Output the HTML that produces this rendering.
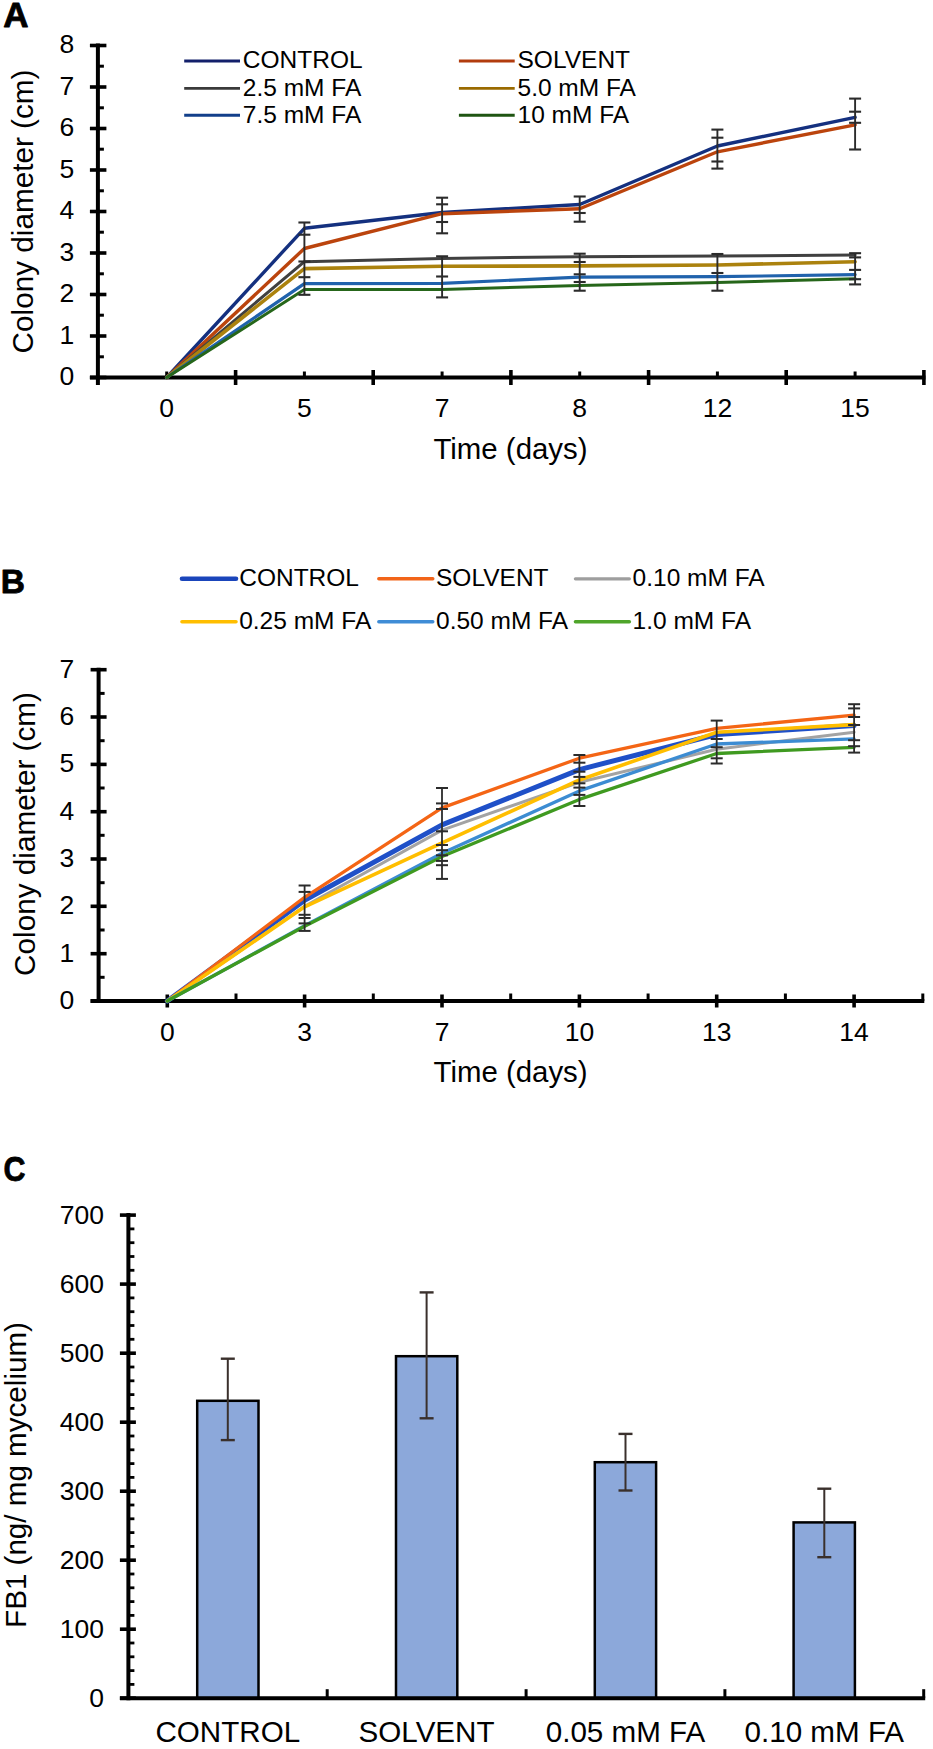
<!DOCTYPE html>
<html><head><meta charset="utf-8"><title>Figure</title>
<style>
html,body{margin:0;padding:0;background:#fff;}
body{width:933px;height:1749px;overflow:hidden;}
svg{display:block;}
svg text{font-family:"Liberation Sans", sans-serif;fill:#000;}
</style></head>
<body>
<svg width="933" height="1749" viewBox="0 0 933 1749">
<rect x="0" y="0" width="933" height="1749" fill="#fff"/>
<text x="3.2" y="26.8" font-size="35" text-anchor="start" font-weight="bold" stroke="#000" stroke-width="0.8" stroke-linejoin="round">A</text>
<line x1="97.9" y1="43.5" x2="97.9" y2="385.0" stroke="#000" stroke-width="4" stroke-linecap="butt"/>
<line x1="89.9" y1="377.5" x2="106.4" y2="377.5" stroke="#000" stroke-width="3.6" stroke-linecap="butt"/>
<text x="74.2" y="385.1" font-size="26.5" text-anchor="end" font-weight="normal" >0</text>
<line x1="89.9" y1="336.0" x2="106.4" y2="336.0" stroke="#000" stroke-width="3.6" stroke-linecap="butt"/>
<text x="74.2" y="343.6" font-size="26.5" text-anchor="end" font-weight="normal" >1</text>
<line x1="89.9" y1="294.5" x2="106.4" y2="294.5" stroke="#000" stroke-width="3.6" stroke-linecap="butt"/>
<text x="74.2" y="302.1" font-size="26.5" text-anchor="end" font-weight="normal" >2</text>
<line x1="89.9" y1="253.0" x2="106.4" y2="253.0" stroke="#000" stroke-width="3.6" stroke-linecap="butt"/>
<text x="74.2" y="260.6" font-size="26.5" text-anchor="end" font-weight="normal" >3</text>
<line x1="89.9" y1="211.5" x2="106.4" y2="211.5" stroke="#000" stroke-width="3.6" stroke-linecap="butt"/>
<text x="74.2" y="219.1" font-size="26.5" text-anchor="end" font-weight="normal" >4</text>
<line x1="89.9" y1="170.0" x2="106.4" y2="170.0" stroke="#000" stroke-width="3.6" stroke-linecap="butt"/>
<text x="74.2" y="177.6" font-size="26.5" text-anchor="end" font-weight="normal" >5</text>
<line x1="89.9" y1="128.5" x2="106.4" y2="128.5" stroke="#000" stroke-width="3.6" stroke-linecap="butt"/>
<text x="74.2" y="136.1" font-size="26.5" text-anchor="end" font-weight="normal" >6</text>
<line x1="89.9" y1="87.0" x2="106.4" y2="87.0" stroke="#000" stroke-width="3.6" stroke-linecap="butt"/>
<text x="74.2" y="94.6" font-size="26.5" text-anchor="end" font-weight="normal" >7</text>
<line x1="89.9" y1="45.5" x2="106.4" y2="45.5" stroke="#000" stroke-width="3.6" stroke-linecap="butt"/>
<text x="74.2" y="53.1" font-size="26.5" text-anchor="end" font-weight="normal" >8</text>
<line x1="97.9" y1="356.8" x2="103.9" y2="356.8" stroke="#000" stroke-width="3" stroke-linecap="butt"/>
<line x1="97.9" y1="315.2" x2="103.9" y2="315.2" stroke="#000" stroke-width="3" stroke-linecap="butt"/>
<line x1="97.9" y1="273.8" x2="103.9" y2="273.8" stroke="#000" stroke-width="3" stroke-linecap="butt"/>
<line x1="97.9" y1="232.2" x2="103.9" y2="232.2" stroke="#000" stroke-width="3" stroke-linecap="butt"/>
<line x1="97.9" y1="190.8" x2="103.9" y2="190.8" stroke="#000" stroke-width="3" stroke-linecap="butt"/>
<line x1="97.9" y1="149.2" x2="103.9" y2="149.2" stroke="#000" stroke-width="3" stroke-linecap="butt"/>
<line x1="97.9" y1="107.8" x2="103.9" y2="107.8" stroke="#000" stroke-width="3" stroke-linecap="butt"/>
<line x1="97.9" y1="66.2" x2="103.9" y2="66.2" stroke="#000" stroke-width="3" stroke-linecap="butt"/>
<line x1="89.9" y1="377.5" x2="925.4" y2="377.5" stroke="#000" stroke-width="4" stroke-linecap="butt"/>
<line x1="235.6" y1="370.0" x2="235.6" y2="385.0" stroke="#000" stroke-width="3.6" stroke-linecap="butt"/>
<line x1="373.2" y1="370.0" x2="373.2" y2="385.0" stroke="#000" stroke-width="3.6" stroke-linecap="butt"/>
<line x1="510.9" y1="370.0" x2="510.9" y2="385.0" stroke="#000" stroke-width="3.6" stroke-linecap="butt"/>
<line x1="648.6" y1="370.0" x2="648.6" y2="385.0" stroke="#000" stroke-width="3.6" stroke-linecap="butt"/>
<line x1="786.2" y1="370.0" x2="786.2" y2="385.0" stroke="#000" stroke-width="3.6" stroke-linecap="butt"/>
<line x1="923.9" y1="370.0" x2="923.9" y2="385.0" stroke="#000" stroke-width="3.6" stroke-linecap="butt"/>
<line x1="166.7" y1="371.5" x2="166.7" y2="377.5" stroke="#000" stroke-width="3" stroke-linecap="butt"/>
<line x1="304.4" y1="371.5" x2="304.4" y2="377.5" stroke="#000" stroke-width="3" stroke-linecap="butt"/>
<line x1="442.1" y1="371.5" x2="442.1" y2="377.5" stroke="#000" stroke-width="3" stroke-linecap="butt"/>
<line x1="579.7" y1="371.5" x2="579.7" y2="377.5" stroke="#000" stroke-width="3" stroke-linecap="butt"/>
<line x1="717.4" y1="371.5" x2="717.4" y2="377.5" stroke="#000" stroke-width="3" stroke-linecap="butt"/>
<line x1="855.1" y1="371.5" x2="855.1" y2="377.5" stroke="#000" stroke-width="3" stroke-linecap="butt"/>
<text x="166.7" y="417.3" font-size="26.5" text-anchor="middle" font-weight="normal" >0</text>
<text x="304.4" y="417.3" font-size="26.5" text-anchor="middle" font-weight="normal" >5</text>
<text x="442.1" y="417.3" font-size="26.5" text-anchor="middle" font-weight="normal" >7</text>
<text x="579.7" y="417.3" font-size="26.5" text-anchor="middle" font-weight="normal" >8</text>
<text x="717.4" y="417.3" font-size="26.5" text-anchor="middle" font-weight="normal" >12</text>
<text x="855.1" y="417.3" font-size="26.5" text-anchor="middle" font-weight="normal" >15</text>
<text x="510.5" y="458.6" font-size="29.4" text-anchor="middle" font-weight="normal" >Time (days)</text>
<text transform="translate(32.6,211.5) rotate(-90)" font-size="29.7" text-anchor="middle">Colony diameter (cm)</text>
<line x1="184.2" y1="61.0" x2="240.0" y2="61.0" stroke="#13206b" stroke-width="2.9" stroke-linecap="butt"/>
<text x="242.8" y="68.2" font-size="24.5" text-anchor="start" font-weight="normal" >CONTROL</text>
<line x1="184.2" y1="88.4" x2="240.0" y2="88.4" stroke="#3a3a3a" stroke-width="2.9" stroke-linecap="butt"/>
<text x="242.8" y="95.6" font-size="24.5" text-anchor="start" font-weight="normal" >2.5 mM FA</text>
<line x1="184.2" y1="115.3" x2="240.0" y2="115.3" stroke="#123f8a" stroke-width="2.9" stroke-linecap="butt"/>
<text x="242.8" y="122.5" font-size="24.5" text-anchor="start" font-weight="normal" >7.5 mM FA</text>
<line x1="458.9" y1="61.0" x2="514.7" y2="61.0" stroke="#b23c0e" stroke-width="2.9" stroke-linecap="butt"/>
<text x="517.5" y="68.2" font-size="24.5" text-anchor="start" font-weight="normal" >SOLVENT</text>
<line x1="458.9" y1="88.4" x2="514.7" y2="88.4" stroke="#9a6a00" stroke-width="2.9" stroke-linecap="butt"/>
<text x="517.5" y="95.6" font-size="24.5" text-anchor="start" font-weight="normal" >5.0 mM FA</text>
<line x1="458.9" y1="115.3" x2="514.7" y2="115.3" stroke="#1f5512" stroke-width="2.9" stroke-linecap="butt"/>
<text x="517.5" y="122.5" font-size="24.5" text-anchor="start" font-weight="normal" >10 mM FA</text>
<g fill="none" stroke-linejoin="round" stroke-linecap="round">
<polyline points="166.7,377.5 304.4,228.3 442.1,212.5 579.7,204.5 717.4,146.0 855.1,117.3" stroke="#14307f" stroke-width="3.4"/>
<polyline points="166.7,377.5 304.4,248.5 442.1,213.7 579.7,208.7 717.4,151.8 855.1,124.8" stroke="#bb440d" stroke-width="3.4"/>
<polyline points="166.7,377.5 304.4,261.7 442.1,258.4 579.7,256.7 717.4,255.9 855.1,255.1" stroke="#404040" stroke-width="3.0"/>
<polyline points="166.7,377.5 304.4,268.6 442.1,266.3 579.7,265.9 717.4,265.0 855.1,261.7" stroke="#ab820e" stroke-width="3.6"/>
<polyline points="166.7,377.5 304.4,283.6 442.1,283.3 579.7,277.1 717.4,276.7 855.1,274.6" stroke="#2062ac" stroke-width="3.2"/>
<polyline points="166.7,377.5 304.4,289.6 442.1,289.5 579.7,285.4 717.4,282.5 855.1,278.7" stroke="#26661a" stroke-width="3.0"/>
</g>
<line x1="304.4" y1="222.5" x2="304.4" y2="234.7" stroke="#2b2b2b" stroke-width="1.9" stroke-linecap="butt"/>
<line x1="304.4" y1="234.7" x2="304.4" y2="261.5" stroke="#2b2b2b" stroke-width="1.9" stroke-linecap="butt"/>
<line x1="304.4" y1="261.5" x2="304.4" y2="277.2" stroke="#2b2b2b" stroke-width="1.9" stroke-linecap="butt"/>
<line x1="304.4" y1="277.2" x2="304.4" y2="294.8" stroke="#2b2b2b" stroke-width="1.9" stroke-linecap="butt"/>
<line x1="442.1" y1="197.7" x2="442.1" y2="233.3" stroke="#2b2b2b" stroke-width="1.9" stroke-linecap="butt"/>
<line x1="442.1" y1="256.3" x2="442.1" y2="297.4" stroke="#2b2b2b" stroke-width="1.9" stroke-linecap="butt"/>
<line x1="579.7" y1="196.5" x2="579.7" y2="221.7" stroke="#2b2b2b" stroke-width="1.9" stroke-linecap="butt"/>
<line x1="579.7" y1="253.7" x2="579.7" y2="290.7" stroke="#2b2b2b" stroke-width="1.9" stroke-linecap="butt"/>
<line x1="717.4" y1="129.6" x2="717.4" y2="168.6" stroke="#2b2b2b" stroke-width="1.9" stroke-linecap="butt"/>
<line x1="717.4" y1="254.0" x2="717.4" y2="290.7" stroke="#2b2b2b" stroke-width="1.9" stroke-linecap="butt"/>
<line x1="855.1" y1="98.6" x2="855.1" y2="149.5" stroke="#2b2b2b" stroke-width="1.9" stroke-linecap="butt"/>
<line x1="855.1" y1="253.2" x2="855.1" y2="284.4" stroke="#2b2b2b" stroke-width="1.9" stroke-linecap="butt"/>
<line x1="298.4" y1="222.5" x2="310.4" y2="222.5" stroke="#2b2b2b" stroke-width="2.1" stroke-linecap="butt"/>
<line x1="298.4" y1="234.7" x2="310.4" y2="234.7" stroke="#2b2b2b" stroke-width="2.1" stroke-linecap="butt"/>
<line x1="298.4" y1="261.5" x2="310.4" y2="261.5" stroke="#2b2b2b" stroke-width="2.1" stroke-linecap="butt"/>
<line x1="298.4" y1="277.2" x2="310.4" y2="277.2" stroke="#2b2b2b" stroke-width="2.1" stroke-linecap="butt"/>
<line x1="298.4" y1="294.8" x2="310.4" y2="294.8" stroke="#2b2b2b" stroke-width="2.1" stroke-linecap="butt"/>
<line x1="436.1" y1="197.7" x2="448.1" y2="197.7" stroke="#2b2b2b" stroke-width="2.1" stroke-linecap="butt"/>
<line x1="436.1" y1="204.3" x2="448.1" y2="204.3" stroke="#2b2b2b" stroke-width="2.1" stroke-linecap="butt"/>
<line x1="436.1" y1="222.0" x2="448.1" y2="222.0" stroke="#2b2b2b" stroke-width="2.1" stroke-linecap="butt"/>
<line x1="436.1" y1="233.3" x2="448.1" y2="233.3" stroke="#2b2b2b" stroke-width="2.1" stroke-linecap="butt"/>
<line x1="436.1" y1="256.3" x2="448.1" y2="256.3" stroke="#2b2b2b" stroke-width="2.1" stroke-linecap="butt"/>
<line x1="436.1" y1="276.5" x2="448.1" y2="276.5" stroke="#2b2b2b" stroke-width="2.1" stroke-linecap="butt"/>
<line x1="436.1" y1="297.4" x2="448.1" y2="297.4" stroke="#2b2b2b" stroke-width="2.1" stroke-linecap="butt"/>
<line x1="573.7" y1="196.5" x2="585.7" y2="196.5" stroke="#2b2b2b" stroke-width="2.1" stroke-linecap="butt"/>
<line x1="573.7" y1="213.0" x2="585.7" y2="213.0" stroke="#2b2b2b" stroke-width="2.1" stroke-linecap="butt"/>
<line x1="573.7" y1="221.7" x2="585.7" y2="221.7" stroke="#2b2b2b" stroke-width="2.1" stroke-linecap="butt"/>
<line x1="573.7" y1="253.7" x2="585.7" y2="253.7" stroke="#2b2b2b" stroke-width="2.1" stroke-linecap="butt"/>
<line x1="573.7" y1="262.0" x2="585.7" y2="262.0" stroke="#2b2b2b" stroke-width="2.1" stroke-linecap="butt"/>
<line x1="573.7" y1="274.3" x2="585.7" y2="274.3" stroke="#2b2b2b" stroke-width="2.1" stroke-linecap="butt"/>
<line x1="573.7" y1="282.0" x2="585.7" y2="282.0" stroke="#2b2b2b" stroke-width="2.1" stroke-linecap="butt"/>
<line x1="573.7" y1="290.7" x2="585.7" y2="290.7" stroke="#2b2b2b" stroke-width="2.1" stroke-linecap="butt"/>
<line x1="711.4" y1="129.6" x2="723.4" y2="129.6" stroke="#2b2b2b" stroke-width="2.1" stroke-linecap="butt"/>
<line x1="711.4" y1="137.7" x2="723.4" y2="137.7" stroke="#2b2b2b" stroke-width="2.1" stroke-linecap="butt"/>
<line x1="711.4" y1="161.5" x2="723.4" y2="161.5" stroke="#2b2b2b" stroke-width="2.1" stroke-linecap="butt"/>
<line x1="711.4" y1="168.6" x2="723.4" y2="168.6" stroke="#2b2b2b" stroke-width="2.1" stroke-linecap="butt"/>
<line x1="711.4" y1="254.0" x2="723.4" y2="254.0" stroke="#2b2b2b" stroke-width="2.1" stroke-linecap="butt"/>
<line x1="711.4" y1="273.0" x2="723.4" y2="273.0" stroke="#2b2b2b" stroke-width="2.1" stroke-linecap="butt"/>
<line x1="711.4" y1="290.7" x2="723.4" y2="290.7" stroke="#2b2b2b" stroke-width="2.1" stroke-linecap="butt"/>
<line x1="849.1" y1="98.6" x2="861.1" y2="98.6" stroke="#2b2b2b" stroke-width="2.1" stroke-linecap="butt"/>
<line x1="849.1" y1="111.7" x2="861.1" y2="111.7" stroke="#2b2b2b" stroke-width="2.1" stroke-linecap="butt"/>
<line x1="849.1" y1="122.8" x2="861.1" y2="122.8" stroke="#2b2b2b" stroke-width="2.1" stroke-linecap="butt"/>
<line x1="849.1" y1="149.5" x2="861.1" y2="149.5" stroke="#2b2b2b" stroke-width="2.1" stroke-linecap="butt"/>
<line x1="849.1" y1="253.2" x2="861.1" y2="253.2" stroke="#2b2b2b" stroke-width="2.1" stroke-linecap="butt"/>
<line x1="849.1" y1="257.4" x2="861.1" y2="257.4" stroke="#2b2b2b" stroke-width="2.1" stroke-linecap="butt"/>
<line x1="849.1" y1="269.9" x2="861.1" y2="269.9" stroke="#2b2b2b" stroke-width="2.1" stroke-linecap="butt"/>
<line x1="849.1" y1="279.2" x2="861.1" y2="279.2" stroke="#2b2b2b" stroke-width="2.1" stroke-linecap="butt"/>
<line x1="849.1" y1="284.4" x2="861.1" y2="284.4" stroke="#2b2b2b" stroke-width="2.1" stroke-linecap="butt"/>
<text x="0.7" y="593.2" font-size="33.5" text-anchor="start" font-weight="bold" stroke="#000" stroke-width="0.8" stroke-linejoin="round">B</text>
<line x1="98.6" y1="667.7" x2="98.6" y2="1002.5" stroke="#000" stroke-width="4" stroke-linecap="butt"/>
<line x1="90.6" y1="1001.0" x2="106.6" y2="1001.0" stroke="#000" stroke-width="3.6" stroke-linecap="butt"/>
<text x="74.2" y="1008.9" font-size="26.5" text-anchor="end" font-weight="normal" >0</text>
<line x1="90.6" y1="953.7" x2="106.6" y2="953.7" stroke="#000" stroke-width="3.6" stroke-linecap="butt"/>
<text x="74.2" y="961.6" font-size="26.5" text-anchor="end" font-weight="normal" >1</text>
<line x1="90.6" y1="906.3" x2="106.6" y2="906.3" stroke="#000" stroke-width="3.6" stroke-linecap="butt"/>
<text x="74.2" y="914.2" font-size="26.5" text-anchor="end" font-weight="normal" >2</text>
<line x1="90.6" y1="859.0" x2="106.6" y2="859.0" stroke="#000" stroke-width="3.6" stroke-linecap="butt"/>
<text x="74.2" y="866.9" font-size="26.5" text-anchor="end" font-weight="normal" >3</text>
<line x1="90.6" y1="811.7" x2="106.6" y2="811.7" stroke="#000" stroke-width="3.6" stroke-linecap="butt"/>
<text x="74.2" y="819.6" font-size="26.5" text-anchor="end" font-weight="normal" >4</text>
<line x1="90.6" y1="764.4" x2="106.6" y2="764.4" stroke="#000" stroke-width="3.6" stroke-linecap="butt"/>
<text x="74.2" y="772.2" font-size="26.5" text-anchor="end" font-weight="normal" >5</text>
<line x1="90.6" y1="717.0" x2="106.6" y2="717.0" stroke="#000" stroke-width="3.6" stroke-linecap="butt"/>
<text x="74.2" y="724.9" font-size="26.5" text-anchor="end" font-weight="normal" >6</text>
<line x1="90.6" y1="669.7" x2="106.6" y2="669.7" stroke="#000" stroke-width="3.6" stroke-linecap="butt"/>
<text x="74.2" y="677.6" font-size="26.5" text-anchor="end" font-weight="normal" >7</text>
<line x1="98.6" y1="977.3" x2="104.6" y2="977.3" stroke="#000" stroke-width="3" stroke-linecap="butt"/>
<line x1="98.6" y1="930.0" x2="104.6" y2="930.0" stroke="#000" stroke-width="3" stroke-linecap="butt"/>
<line x1="98.6" y1="882.7" x2="104.6" y2="882.7" stroke="#000" stroke-width="3" stroke-linecap="butt"/>
<line x1="98.6" y1="835.3" x2="104.6" y2="835.3" stroke="#000" stroke-width="3" stroke-linecap="butt"/>
<line x1="98.6" y1="788.0" x2="104.6" y2="788.0" stroke="#000" stroke-width="3" stroke-linecap="butt"/>
<line x1="98.6" y1="740.7" x2="104.6" y2="740.7" stroke="#000" stroke-width="3" stroke-linecap="butt"/>
<line x1="98.6" y1="693.4" x2="104.6" y2="693.4" stroke="#000" stroke-width="3" stroke-linecap="butt"/>
<line x1="90.6" y1="1001.0" x2="924.3" y2="1001.0" stroke="#000" stroke-width="4" stroke-linecap="butt"/>
<line x1="167.3" y1="994.5" x2="167.3" y2="1007.5" stroke="#000" stroke-width="3.6" stroke-linecap="butt"/>
<line x1="304.6" y1="994.5" x2="304.6" y2="1007.5" stroke="#000" stroke-width="3.6" stroke-linecap="butt"/>
<line x1="442.0" y1="994.5" x2="442.0" y2="1007.5" stroke="#000" stroke-width="3.6" stroke-linecap="butt"/>
<line x1="579.4" y1="994.5" x2="579.4" y2="1007.5" stroke="#000" stroke-width="3.6" stroke-linecap="butt"/>
<line x1="716.7" y1="994.5" x2="716.7" y2="1007.5" stroke="#000" stroke-width="3.6" stroke-linecap="butt"/>
<line x1="854.1" y1="994.5" x2="854.1" y2="1007.5" stroke="#000" stroke-width="3.6" stroke-linecap="butt"/>
<line x1="236.0" y1="993.5" x2="236.0" y2="1001.0" stroke="#000" stroke-width="3" stroke-linecap="butt"/>
<line x1="373.3" y1="993.5" x2="373.3" y2="1001.0" stroke="#000" stroke-width="3" stroke-linecap="butt"/>
<line x1="510.7" y1="993.5" x2="510.7" y2="1001.0" stroke="#000" stroke-width="3" stroke-linecap="butt"/>
<line x1="648.1" y1="993.5" x2="648.1" y2="1001.0" stroke="#000" stroke-width="3" stroke-linecap="butt"/>
<line x1="785.4" y1="993.5" x2="785.4" y2="1001.0" stroke="#000" stroke-width="3" stroke-linecap="butt"/>
<line x1="922.8" y1="993.5" x2="922.8" y2="1001.0" stroke="#000" stroke-width="3" stroke-linecap="butt"/>
<text x="167.3" y="1040.6" font-size="26.5" text-anchor="middle" font-weight="normal" >0</text>
<text x="304.6" y="1040.6" font-size="26.5" text-anchor="middle" font-weight="normal" >3</text>
<text x="442.0" y="1040.6" font-size="26.5" text-anchor="middle" font-weight="normal" >7</text>
<text x="579.4" y="1040.6" font-size="26.5" text-anchor="middle" font-weight="normal" >10</text>
<text x="716.7" y="1040.6" font-size="26.5" text-anchor="middle" font-weight="normal" >13</text>
<text x="854.1" y="1040.6" font-size="26.5" text-anchor="middle" font-weight="normal" >14</text>
<text x="510.6" y="1082.4" font-size="29.4" text-anchor="middle" font-weight="normal" >Time (days)</text>
<text transform="translate(34.6,834) rotate(-90)" font-size="29.7" text-anchor="middle">Colony diameter (cm)</text>
<line x1="182.0" y1="578.8" x2="236.0" y2="578.8" stroke="#1a45bb" stroke-width="4.6" stroke-linecap="round"/>
<text x="239.2" y="586.3" font-size="24.5" text-anchor="start" font-weight="normal" >CONTROL</text>
<line x1="378.8" y1="578.8" x2="432.8" y2="578.8" stroke="#f26418" stroke-width="3.4" stroke-linecap="round"/>
<text x="436.0" y="586.3" font-size="24.5" text-anchor="start" font-weight="normal" >SOLVENT</text>
<line x1="575.4" y1="578.8" x2="629.4" y2="578.8" stroke="#9e9e9e" stroke-width="3.2" stroke-linecap="round"/>
<text x="632.6" y="586.3" font-size="24.5" text-anchor="start" font-weight="normal" >0.10 mM FA</text>
<line x1="182.0" y1="621.8" x2="236.0" y2="621.8" stroke="#ffbe00" stroke-width="3.6" stroke-linecap="round"/>
<text x="239.2" y="629.3" font-size="24.5" text-anchor="start" font-weight="normal" >0.25 mM FA</text>
<line x1="378.8" y1="621.8" x2="432.8" y2="621.8" stroke="#3f8cd6" stroke-width="3.4" stroke-linecap="round"/>
<text x="436.0" y="629.3" font-size="24.5" text-anchor="start" font-weight="normal" >0.50 mM FA</text>
<line x1="575.4" y1="621.8" x2="629.4" y2="621.8" stroke="#4fa52a" stroke-width="3.4" stroke-linecap="round"/>
<text x="632.6" y="629.3" font-size="24.5" text-anchor="start" font-weight="normal" >1.0 mM FA</text>
<g fill="none" stroke-linejoin="round" stroke-linecap="round">
<polyline points="167.3,1001.0 304.6,900.2 442.0,824.9 579.4,769.6 716.7,734.5 854.1,725.5" stroke="#1f50c8" stroke-width="5.0"/>
<polyline points="167.3,1001.0 304.6,897.3 442.0,807.9 579.4,758.2 716.7,728.4 854.1,715.1" stroke="#f46515" stroke-width="3.3"/>
<polyline points="167.3,1001.0 304.6,906.3 442.0,830.1 579.4,782.3 716.7,749.2 854.1,732.2" stroke="#a3a3a3" stroke-width="3.0"/>
<polyline points="167.3,1001.0 304.6,906.8 442.0,842.9 579.4,780.0 716.7,732.2 854.1,724.6" stroke="#ffbe00" stroke-width="3.6"/>
<polyline points="167.3,1001.0 304.6,925.7 442.0,853.3 579.4,790.9 716.7,744.0 854.1,738.8" stroke="#3c8cd2" stroke-width="3.3"/>
<polyline points="167.3,1001.0 304.6,926.2 442.0,856.6 579.4,799.4 716.7,753.5 854.1,747.3" stroke="#3f9a20" stroke-width="3.3"/>
</g>
<line x1="304.6" y1="885.5" x2="304.6" y2="930.9" stroke="#2b2b2b" stroke-width="1.8" stroke-linecap="butt"/>
<line x1="442.0" y1="788.0" x2="442.0" y2="878.9" stroke="#2b2b2b" stroke-width="1.8" stroke-linecap="butt"/>
<line x1="579.4" y1="755.0" x2="579.4" y2="806.0" stroke="#2b2b2b" stroke-width="1.8" stroke-linecap="butt"/>
<line x1="716.7" y1="720.6" x2="716.7" y2="763.5" stroke="#2b2b2b" stroke-width="1.8" stroke-linecap="butt"/>
<line x1="854.1" y1="704.2" x2="854.1" y2="752.6" stroke="#2b2b2b" stroke-width="1.8" stroke-linecap="butt"/>
<line x1="298.6" y1="885.5" x2="310.6" y2="885.5" stroke="#2b2b2b" stroke-width="2.0" stroke-linecap="butt"/>
<line x1="298.6" y1="891.9" x2="310.6" y2="891.9" stroke="#2b2b2b" stroke-width="2.0" stroke-linecap="butt"/>
<line x1="298.6" y1="914.8" x2="310.6" y2="914.8" stroke="#2b2b2b" stroke-width="2.0" stroke-linecap="butt"/>
<line x1="298.6" y1="918.0" x2="310.6" y2="918.0" stroke="#2b2b2b" stroke-width="2.0" stroke-linecap="butt"/>
<line x1="298.6" y1="923.4" x2="310.6" y2="923.4" stroke="#2b2b2b" stroke-width="2.0" stroke-linecap="butt"/>
<line x1="298.6" y1="930.9" x2="310.6" y2="930.9" stroke="#2b2b2b" stroke-width="2.0" stroke-linecap="butt"/>
<line x1="436.0" y1="788.0" x2="448.0" y2="788.0" stroke="#2b2b2b" stroke-width="2.0" stroke-linecap="butt"/>
<line x1="436.0" y1="803.4" x2="448.0" y2="803.4" stroke="#2b2b2b" stroke-width="2.0" stroke-linecap="butt"/>
<line x1="436.0" y1="809.0" x2="448.0" y2="809.0" stroke="#2b2b2b" stroke-width="2.0" stroke-linecap="butt"/>
<line x1="436.0" y1="831.3" x2="448.0" y2="831.3" stroke="#2b2b2b" stroke-width="2.0" stroke-linecap="butt"/>
<line x1="436.0" y1="845.0" x2="448.0" y2="845.0" stroke="#2b2b2b" stroke-width="2.0" stroke-linecap="butt"/>
<line x1="436.0" y1="850.2" x2="448.0" y2="850.2" stroke="#2b2b2b" stroke-width="2.0" stroke-linecap="butt"/>
<line x1="436.0" y1="855.3" x2="448.0" y2="855.3" stroke="#2b2b2b" stroke-width="2.0" stroke-linecap="butt"/>
<line x1="436.0" y1="860.9" x2="448.0" y2="860.9" stroke="#2b2b2b" stroke-width="2.0" stroke-linecap="butt"/>
<line x1="436.0" y1="865.2" x2="448.0" y2="865.2" stroke="#2b2b2b" stroke-width="2.0" stroke-linecap="butt"/>
<line x1="436.0" y1="878.9" x2="448.0" y2="878.9" stroke="#2b2b2b" stroke-width="2.0" stroke-linecap="butt"/>
<line x1="573.4" y1="755.0" x2="585.4" y2="755.0" stroke="#2b2b2b" stroke-width="2.0" stroke-linecap="butt"/>
<line x1="573.4" y1="762.7" x2="585.4" y2="762.7" stroke="#2b2b2b" stroke-width="2.0" stroke-linecap="butt"/>
<line x1="573.4" y1="771.7" x2="585.4" y2="771.7" stroke="#2b2b2b" stroke-width="2.0" stroke-linecap="butt"/>
<line x1="573.4" y1="776.9" x2="585.4" y2="776.9" stroke="#2b2b2b" stroke-width="2.0" stroke-linecap="butt"/>
<line x1="573.4" y1="783.3" x2="585.4" y2="783.3" stroke="#2b2b2b" stroke-width="2.0" stroke-linecap="butt"/>
<line x1="573.4" y1="787.6" x2="585.4" y2="787.6" stroke="#2b2b2b" stroke-width="2.0" stroke-linecap="butt"/>
<line x1="573.4" y1="794.9" x2="585.4" y2="794.9" stroke="#2b2b2b" stroke-width="2.0" stroke-linecap="butt"/>
<line x1="573.4" y1="806.0" x2="585.4" y2="806.0" stroke="#2b2b2b" stroke-width="2.0" stroke-linecap="butt"/>
<line x1="710.7" y1="720.6" x2="722.7" y2="720.6" stroke="#2b2b2b" stroke-width="2.0" stroke-linecap="butt"/>
<line x1="710.7" y1="739.0" x2="722.7" y2="739.0" stroke="#2b2b2b" stroke-width="2.0" stroke-linecap="butt"/>
<line x1="710.7" y1="747.2" x2="722.7" y2="747.2" stroke="#2b2b2b" stroke-width="2.0" stroke-linecap="butt"/>
<line x1="710.7" y1="758.3" x2="722.7" y2="758.3" stroke="#2b2b2b" stroke-width="2.0" stroke-linecap="butt"/>
<line x1="710.7" y1="763.5" x2="722.7" y2="763.5" stroke="#2b2b2b" stroke-width="2.0" stroke-linecap="butt"/>
<line x1="848.1" y1="704.2" x2="860.1" y2="704.2" stroke="#2b2b2b" stroke-width="2.0" stroke-linecap="butt"/>
<line x1="848.1" y1="708.4" x2="860.1" y2="708.4" stroke="#2b2b2b" stroke-width="2.0" stroke-linecap="butt"/>
<line x1="848.1" y1="717.0" x2="860.1" y2="717.0" stroke="#2b2b2b" stroke-width="2.0" stroke-linecap="butt"/>
<line x1="848.1" y1="725.0" x2="860.1" y2="725.0" stroke="#2b2b2b" stroke-width="2.0" stroke-linecap="butt"/>
<line x1="848.1" y1="740.2" x2="860.1" y2="740.2" stroke="#2b2b2b" stroke-width="2.0" stroke-linecap="butt"/>
<line x1="848.1" y1="746.2" x2="860.1" y2="746.2" stroke="#2b2b2b" stroke-width="2.0" stroke-linecap="butt"/>
<line x1="848.1" y1="752.6" x2="860.1" y2="752.6" stroke="#2b2b2b" stroke-width="2.0" stroke-linecap="butt"/>
<text transform="translate(3.4,1180.6) scale(0.87,1)" font-size="35" font-weight="bold" stroke="#000" stroke-width="0.8" stroke-linejoin="round">C</text>
<rect x="197.2" y="1400.8" width="61.3" height="297.4" fill="#8ca8da" stroke="#000" stroke-width="2.5"/>
<rect x="396.0" y="1356.2" width="61.3" height="342.0" fill="#8ca8da" stroke="#000" stroke-width="2.5"/>
<rect x="594.8" y="1462.2" width="61.3" height="236.0" fill="#8ca8da" stroke="#000" stroke-width="2.5"/>
<rect x="793.6" y="1522.4" width="61.3" height="175.8" fill="#8ca8da" stroke="#000" stroke-width="2.5"/>
<line x1="227.8" y1="1358.7" x2="227.8" y2="1440.1" stroke="#3a302c" stroke-width="2" stroke-linecap="butt"/>
<line x1="220.8" y1="1358.7" x2="234.8" y2="1358.7" stroke="#3a302c" stroke-width="2.4" stroke-linecap="butt"/>
<line x1="220.8" y1="1440.1" x2="234.8" y2="1440.1" stroke="#3a302c" stroke-width="2.4" stroke-linecap="butt"/>
<line x1="426.6" y1="1292.4" x2="426.6" y2="1418.3" stroke="#3a302c" stroke-width="2" stroke-linecap="butt"/>
<line x1="419.6" y1="1292.4" x2="433.6" y2="1292.4" stroke="#3a302c" stroke-width="2.4" stroke-linecap="butt"/>
<line x1="419.6" y1="1418.3" x2="433.6" y2="1418.3" stroke="#3a302c" stroke-width="2.4" stroke-linecap="butt"/>
<line x1="625.5" y1="1433.9" x2="625.5" y2="1490.5" stroke="#3a302c" stroke-width="2" stroke-linecap="butt"/>
<line x1="618.5" y1="1433.9" x2="632.5" y2="1433.9" stroke="#3a302c" stroke-width="2.4" stroke-linecap="butt"/>
<line x1="618.5" y1="1490.5" x2="632.5" y2="1490.5" stroke="#3a302c" stroke-width="2.4" stroke-linecap="butt"/>
<line x1="824.3" y1="1488.7" x2="824.3" y2="1557.2" stroke="#3a302c" stroke-width="2" stroke-linecap="butt"/>
<line x1="817.3" y1="1488.7" x2="831.3" y2="1488.7" stroke="#3a302c" stroke-width="2.4" stroke-linecap="butt"/>
<line x1="817.3" y1="1557.2" x2="831.3" y2="1557.2" stroke="#3a302c" stroke-width="2.4" stroke-linecap="butt"/>
<line x1="128.4" y1="1213.1" x2="128.4" y2="1700.2" stroke="#000" stroke-width="4" stroke-linecap="butt"/>
<line x1="119.9" y1="1698.2" x2="135.9" y2="1698.2" stroke="#000" stroke-width="3.6" stroke-linecap="butt"/>
<text x="104.0" y="1707.0" font-size="26.5" text-anchor="end" font-weight="normal" >0</text>
<line x1="119.9" y1="1629.2" x2="135.9" y2="1629.2" stroke="#000" stroke-width="3.6" stroke-linecap="butt"/>
<text x="104.0" y="1638.0" font-size="26.5" text-anchor="end" font-weight="normal" >100</text>
<line x1="119.9" y1="1560.2" x2="135.9" y2="1560.2" stroke="#000" stroke-width="3.6" stroke-linecap="butt"/>
<text x="104.0" y="1569.0" font-size="26.5" text-anchor="end" font-weight="normal" >200</text>
<line x1="119.9" y1="1491.2" x2="135.9" y2="1491.2" stroke="#000" stroke-width="3.6" stroke-linecap="butt"/>
<text x="104.0" y="1500.0" font-size="26.5" text-anchor="end" font-weight="normal" >300</text>
<line x1="119.9" y1="1422.2" x2="135.9" y2="1422.2" stroke="#000" stroke-width="3.6" stroke-linecap="butt"/>
<text x="104.0" y="1431.0" font-size="26.5" text-anchor="end" font-weight="normal" >400</text>
<line x1="119.9" y1="1353.2" x2="135.9" y2="1353.2" stroke="#000" stroke-width="3.6" stroke-linecap="butt"/>
<text x="104.0" y="1362.0" font-size="26.5" text-anchor="end" font-weight="normal" >500</text>
<line x1="119.9" y1="1284.1" x2="135.9" y2="1284.1" stroke="#000" stroke-width="3.6" stroke-linecap="butt"/>
<text x="104.0" y="1292.9" font-size="26.5" text-anchor="end" font-weight="normal" >600</text>
<line x1="119.9" y1="1215.1" x2="135.9" y2="1215.1" stroke="#000" stroke-width="3.6" stroke-linecap="butt"/>
<text x="104.0" y="1223.9" font-size="26.5" text-anchor="end" font-weight="normal" >700</text>
<line x1="128.4" y1="1684.4" x2="134.4" y2="1684.4" stroke="#000" stroke-width="2.8" stroke-linecap="butt"/>
<line x1="128.4" y1="1670.6" x2="134.4" y2="1670.6" stroke="#000" stroke-width="2.8" stroke-linecap="butt"/>
<line x1="128.4" y1="1656.8" x2="134.4" y2="1656.8" stroke="#000" stroke-width="2.8" stroke-linecap="butt"/>
<line x1="128.4" y1="1643.0" x2="134.4" y2="1643.0" stroke="#000" stroke-width="2.8" stroke-linecap="butt"/>
<line x1="128.4" y1="1615.4" x2="134.4" y2="1615.4" stroke="#000" stroke-width="2.8" stroke-linecap="butt"/>
<line x1="128.4" y1="1601.6" x2="134.4" y2="1601.6" stroke="#000" stroke-width="2.8" stroke-linecap="butt"/>
<line x1="128.4" y1="1587.8" x2="134.4" y2="1587.8" stroke="#000" stroke-width="2.8" stroke-linecap="butt"/>
<line x1="128.4" y1="1574.0" x2="134.4" y2="1574.0" stroke="#000" stroke-width="2.8" stroke-linecap="butt"/>
<line x1="128.4" y1="1546.4" x2="134.4" y2="1546.4" stroke="#000" stroke-width="2.8" stroke-linecap="butt"/>
<line x1="128.4" y1="1532.6" x2="134.4" y2="1532.6" stroke="#000" stroke-width="2.8" stroke-linecap="butt"/>
<line x1="128.4" y1="1518.8" x2="134.4" y2="1518.8" stroke="#000" stroke-width="2.8" stroke-linecap="butt"/>
<line x1="128.4" y1="1505.0" x2="134.4" y2="1505.0" stroke="#000" stroke-width="2.8" stroke-linecap="butt"/>
<line x1="128.4" y1="1477.4" x2="134.4" y2="1477.4" stroke="#000" stroke-width="2.8" stroke-linecap="butt"/>
<line x1="128.4" y1="1463.6" x2="134.4" y2="1463.6" stroke="#000" stroke-width="2.8" stroke-linecap="butt"/>
<line x1="128.4" y1="1449.8" x2="134.4" y2="1449.8" stroke="#000" stroke-width="2.8" stroke-linecap="butt"/>
<line x1="128.4" y1="1436.0" x2="134.4" y2="1436.0" stroke="#000" stroke-width="2.8" stroke-linecap="butt"/>
<line x1="128.4" y1="1408.4" x2="134.4" y2="1408.4" stroke="#000" stroke-width="2.8" stroke-linecap="butt"/>
<line x1="128.4" y1="1394.6" x2="134.4" y2="1394.6" stroke="#000" stroke-width="2.8" stroke-linecap="butt"/>
<line x1="128.4" y1="1380.8" x2="134.4" y2="1380.8" stroke="#000" stroke-width="2.8" stroke-linecap="butt"/>
<line x1="128.4" y1="1367.0" x2="134.4" y2="1367.0" stroke="#000" stroke-width="2.8" stroke-linecap="butt"/>
<line x1="128.4" y1="1339.3" x2="134.4" y2="1339.3" stroke="#000" stroke-width="2.8" stroke-linecap="butt"/>
<line x1="128.4" y1="1325.5" x2="134.4" y2="1325.5" stroke="#000" stroke-width="2.8" stroke-linecap="butt"/>
<line x1="128.4" y1="1311.7" x2="134.4" y2="1311.7" stroke="#000" stroke-width="2.8" stroke-linecap="butt"/>
<line x1="128.4" y1="1297.9" x2="134.4" y2="1297.9" stroke="#000" stroke-width="2.8" stroke-linecap="butt"/>
<line x1="128.4" y1="1270.3" x2="134.4" y2="1270.3" stroke="#000" stroke-width="2.8" stroke-linecap="butt"/>
<line x1="128.4" y1="1256.5" x2="134.4" y2="1256.5" stroke="#000" stroke-width="2.8" stroke-linecap="butt"/>
<line x1="128.4" y1="1242.7" x2="134.4" y2="1242.7" stroke="#000" stroke-width="2.8" stroke-linecap="butt"/>
<line x1="128.4" y1="1228.9" x2="134.4" y2="1228.9" stroke="#000" stroke-width="2.8" stroke-linecap="butt"/>
<line x1="119.9" y1="1698.2" x2="925.2" y2="1698.2" stroke="#000" stroke-width="4" stroke-linecap="butt"/>
<line x1="327.2" y1="1689.2" x2="327.2" y2="1698.2" stroke="#000" stroke-width="3" stroke-linecap="butt"/>
<line x1="526.1" y1="1689.2" x2="526.1" y2="1698.2" stroke="#000" stroke-width="3" stroke-linecap="butt"/>
<line x1="724.9" y1="1689.2" x2="724.9" y2="1698.2" stroke="#000" stroke-width="3" stroke-linecap="butt"/>
<line x1="923.7" y1="1689.2" x2="923.7" y2="1698.2" stroke="#000" stroke-width="3" stroke-linecap="butt"/>
<text x="227.8" y="1742.3" font-size="29.6" text-anchor="middle" font-weight="normal" >CONTROL</text>
<text x="426.6" y="1742.3" font-size="29.6" text-anchor="middle" font-weight="normal" >SOLVENT</text>
<text x="625.5" y="1742.3" font-size="29.6" text-anchor="middle" font-weight="normal" >0.05 mM FA</text>
<text x="824.3" y="1742.3" font-size="29.6" text-anchor="middle" font-weight="normal" >0.10 mM FA</text>
<text transform="translate(26.2,1475) rotate(-90)" font-size="29.6" text-anchor="middle">FB1 (ng/ mg mycelium)</text>
</svg>
</body></html>
